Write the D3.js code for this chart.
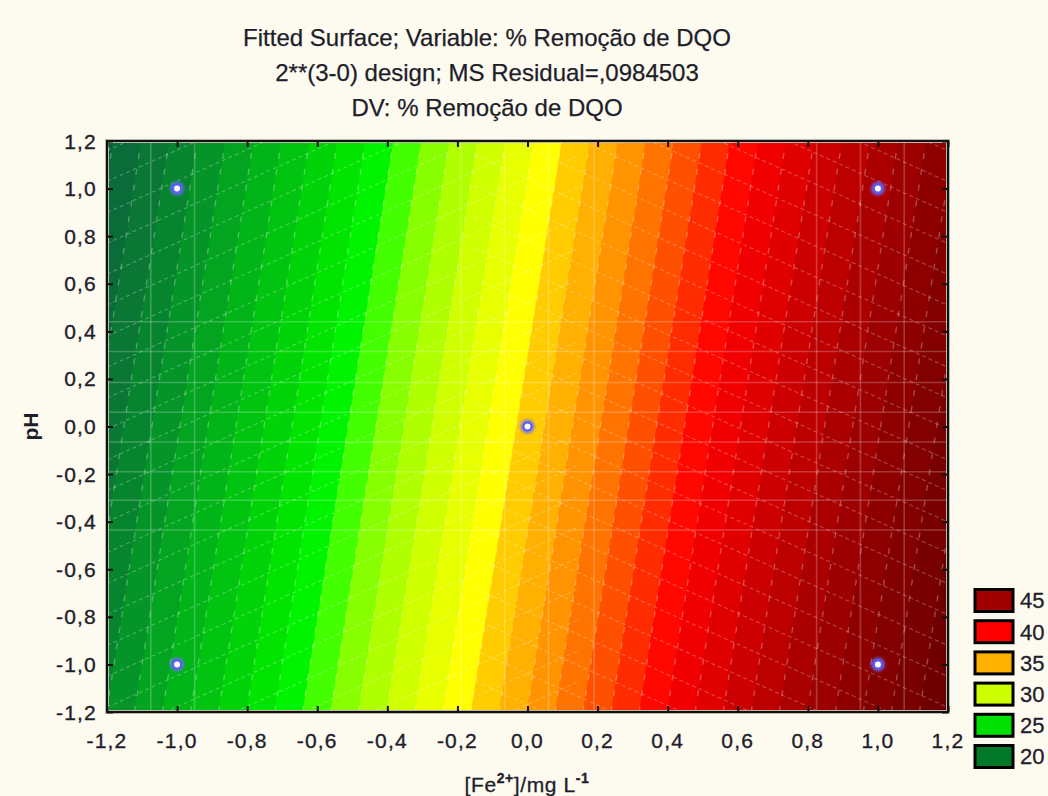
<!DOCTYPE html>
<html>
<head>
<meta charset="utf-8">
<script src="https://cdn.jsdelivr.net/npm/d3@7"></script>
<style>
  body { margin: 0; background: #fdfaf0; }
  svg { display: block; font-family: "Liberation Sans", Arial, sans-serif; }
</style>
</head>
<body>
<svg id="chart" width="1048" height="796"></svg>
<script>
// Fitted first-order model in coded units: % Remoção de DQO = b0 + bFe*x + bPH*y
const coefIntercept = 33.4;
const coefFe = 12.5;
const coefPH = -1.35;

// Design points (coded levels)
const designFe = [-1, -1, 0, 1, 1];
const designPH = [1, -1, 0, 1, -1];

// Axis ticks
const tickValues = [-1.2, -1.0, -0.8, -0.6, -0.4, -0.2, 0.0, 0.2, 0.4, 0.6, 0.8, 1.0, 1.2];

// Contour levels, one unit apart, and the fill of the band that starts at each level
const bandLevels = [16, 17, 18, 19, 20, 21, 22, 23, 24, 25, 26, 27, 28, 29, 30, 31, 32, 33,
                    34, 35, 36, 37, 38, 39, 40, 41, 42, 43, 44, 45, 46, 47, 48, 49, 50];
const bandColors = ["#08603a", "#0a6c38", "#0a7834", "#07852e", "#059428", "#03a420", "#01b418",
                    "#00c410", "#00d408", "#00e400", "#00f400", "#44ff00", "#88ff00", "#b0ff00",
                    "#d0ff00", "#e8ff00", "#ffff00", "#ffcc00", "#ffb000", "#ff9400", "#ff7400",
                    "#ff5000", "#ff2c00", "#ff0800", "#f00000", "#e00000", "#cc0000", "#bc0000",
                    "#aa0000", "#9c0000", "#8e0000", "#820000", "#780000", "#700000", "#680000"];

// Legend classes
const legendLevels = [45, 40, 35, 30, 25, 20];
const legendColors = ["#a00000", "#ff0000", "#ffb000", "#ccff00", "#00e000", "#007a28"];

// Titles
const titleLines = [
  "Fitted Surface; Variable: % Remoção de DQO",
  "2**(3-0) design; MS Residual=,0984503",
  "DV: % Remoção de DQO"
];

const surface = (x, y) => coefIntercept + coefFe * x + coefPH * y;
const fmt = v => d3.format(".1f")(v).replace("−", "-").replace(".", ",");

const svg = d3.select("#chart");
const W = 1048, H = 796;
const plot = { left: 107, right: 948, top: 141, bottom: 712 };
const domain = [-1.2, 1.2];
const ink = "#1e1e2a";

const x = d3.scaleLinear().domain(domain).range([plot.left, plot.right]);
const y = d3.scaleLinear().domain(domain).range([plot.bottom, plot.top]);

svg.append("rect").attr("width", W).attr("height", H).attr("fill", "#fdfaf0");

// Title
svg.append("g").selectAll("text").data(titleLines).join("text")
  .attr("x", 487).attr("y", (d, i) => 46 + i * 35)
  .attr("text-anchor", "middle")
  .attr("font-size", 24).attr("fill", ink)
  .attr("stroke", ink).attr("stroke-width", 0.25)
  .text(d => d);

const defs = svg.append("defs");
defs.append("clipPath").attr("id", "plotClip")
  .append("rect")
  .attr("x", plot.left).attr("y", plot.top)
  .attr("width", plot.right - plot.left).attr("height", plot.bottom - plot.top);
defs.append("filter").attr("id", "glow")
  .attr("x", "-100%").attr("y", "-100%").attr("width", "300%").attr("height", "300%")
  .append("feGaussianBlur").attr("stdDeviation", 1.6);

const area = svg.append("g").attr("clip-path", "url(#plotClip)");

// Sample the fitted surface on a grid and build filled contour bands
const n = 481;
const step = (domain[1] - domain[0]) / (n - 1);
const values = new Float64Array(n * n);
for (let j = 0; j < n; j++) {
  for (let i = 0; i < n; i++) {
    values[j * n + i] = surface(domain[0] + i * step, domain[1] - j * step);
  }
}
const contours = d3.contours().size([n, n]).thresholds(bandLevels)(values);
const gridToScreen = d3.geoTransform({
  point(cx, cy) {
    this.stream.point(x(domain[0] + (cx - 0.5) * step), y(domain[1] - (cy - 0.5) * step));
  }
});
const path = d3.geoPath(gridToScreen);

area.append("rect")
  .attr("x", plot.left).attr("y", plot.top)
  .attr("width", plot.right - plot.left).attr("height", plot.bottom - plot.top)
  .attr("fill", bandColors[0]);

area.append("g").selectAll("path").data(contours).join("path")
  .attr("d", path)
  .attr("fill", (d, i) => bandColors[i])
  .attr("stroke", (d, i) => bandColors[i])
  .attr("stroke-width", 0.3);

// Mesh overlay drawn by the surface renderer
const mesh = area.append("g").attr("fill", "none");

// dashed iso-lines at each contour level
const isoLine = d3.line().x(d => x(d[0])).y(d => y(d[1]));
mesh.append("g").selectAll("path").data(bandLevels).join("path")
  .attr("d", L => isoLine([
    [(L - coefIntercept - coefPH * domain[0]) / coefFe, domain[0]],
    [(L - coefIntercept - coefPH * domain[1]) / coefFe, domain[1]]
  ]))
  .attr("stroke", "#ffffff").attr("stroke-opacity", 0.3)
  .attr("stroke-width", 1.3).attr("stroke-dasharray", "6,10");

// faint solid grid strips
const meshX = [-1.075, -0.95, -0.19, -0.065, 0.06, 0.19, 0.825, 0.95, 1.075];
const meshY = [0.44, 0.315, 0.185, 0.06, -0.065, -0.19, -0.31, -0.435];
mesh.append("g").selectAll("line").data(meshX).join("line")
  .attr("x1", d => x(d)).attr("x2", d => x(d))
  .attr("y1", y(domain[0])).attr("y2", y(domain[1]))
  .attr("stroke", "#ffffff").attr("stroke-opacity", 0.22).attr("stroke-width", 1.6);
mesh.append("g").selectAll("line").data(meshY).join("line")
  .attr("y1", d => y(d)).attr("y2", d => y(d))
  .attr("x1", x(domain[0])).attr("x2", x(domain[1]))
  .attr("stroke", "#ffffff").attr("stroke-opacity", 0.22).attr("stroke-width", 1.6);

// slanted dotted wires: rising on the low-Fe side, falling on the high-Fe side
const slope = 0.66, spacing = 0.13;
const rising = d3.range(-3.0, 1.3, spacing).map(y0 => [[-1.2, y0], [0.15, y0 + slope * 1.35]]);
const falling = d3.range(-1.2, 2.9, spacing).map(y0 => [[-0.15, y0], [1.2, y0 - slope * 1.35]]);
mesh.append("g").selectAll("path").data(rising.concat(falling)).join("path")
  .attr("d", isoLine)
  .attr("stroke", "#ffffff").attr("stroke-opacity", 0.28)
  .attr("stroke-width", 1.1).attr("stroke-dasharray", "4,3");

// Frame
svg.append("rect")
  .attr("x", plot.left).attr("y", plot.top)
  .attr("width", plot.right - plot.left).attr("height", plot.bottom - plot.top)
  .attr("fill", "none").attr("stroke", "#bdb8ad").attr("stroke-width", 4);
svg.append("rect")
  .attr("x", plot.left).attr("y", plot.top)
  .attr("width", plot.right - plot.left).attr("height", plot.bottom - plot.top)
  .attr("fill", "none").attr("stroke", "#111").attr("stroke-width", 2);

// Axes with inward ticks on all sides
const tickStyle = g => {
  g.select(".domain").remove();
  g.selectAll(".tick line").attr("stroke", "#111").attr("stroke-width", 2);
};
svg.append("g").attr("transform", `translate(0,${plot.bottom})`)
  .call(d3.axisBottom(x).tickValues(tickValues).tickSizeInner(-6).tickSizeOuter(0).tickFormat(""))
  .call(tickStyle);
svg.append("g").attr("transform", `translate(0,${plot.top})`)
  .call(d3.axisTop(x).tickValues(tickValues).tickSizeInner(-6).tickSizeOuter(0).tickFormat(""))
  .call(tickStyle);
svg.append("g").attr("transform", `translate(${plot.left},0)`)
  .call(d3.axisLeft(y).tickValues(tickValues).tickSizeInner(-6).tickSizeOuter(0).tickFormat(""))
  .call(tickStyle);
svg.append("g").attr("transform", `translate(${plot.right},0)`)
  .call(d3.axisRight(y).tickValues(tickValues).tickSizeInner(-6).tickSizeOuter(0).tickFormat(""))
  .call(tickStyle);

// Tick labels
const labelFont = 21;
svg.append("g").selectAll("text").data(tickValues).join("text")
  .attr("x", d => x(d)).attr("y", 748)
  .attr("text-anchor", "middle").attr("font-size", labelFont)
  .attr("letter-spacing", 1.2).attr("fill", ink)
  .attr("stroke", ink).attr("stroke-width", 0.35)
  .text(fmt);
svg.append("g").selectAll("text").data(tickValues).join("text")
  .attr("x", 97).attr("y", d => y(d)).attr("dy", "0.36em")
  .attr("text-anchor", "end").attr("font-size", labelFont)
  .attr("letter-spacing", 1.2).attr("fill", ink)
  .attr("stroke", ink).attr("stroke-width", 0.35)
  .text(fmt);

// Axis titles
const xTitle = svg.append("text")
  .attr("x", 527).attr("y", 792).attr("text-anchor", "middle")
  .attr("font-size", 21).attr("letter-spacing", 0.6).attr("fill", ink)
  .attr("stroke", ink).attr("stroke-width", 0.3);
xTitle.append("tspan").text("[Fe");
xTitle.append("tspan").attr("font-size", 14).attr("font-weight", "bold").attr("dy", -9).text("2+");
xTitle.append("tspan").attr("dy", 9).text("]/mg L");
xTitle.append("tspan").attr("font-size", 14).attr("font-weight", "bold").attr("dy", -9).text("-1");

svg.append("text")
  .attr("transform", `translate(38,${y(0)}) rotate(-90)`)
  .attr("text-anchor", "middle").attr("font-size", 21).attr("font-weight", "bold")
  .attr("fill", ink)
  .text("pH");

// Design points
const pts = svg.append("g");
const ptData = designFe.map((v, i) => [v, designPH[i]]);
pts.selectAll("circle.halo").data(ptData).join("circle").attr("class", "halo")
  .attr("cx", d => x(d[0])).attr("cy", d => y(d[1])).attr("r", 7)
  .attr("fill", "#6a6aff").attr("opacity", 0.85).attr("filter", "url(#glow)");
pts.selectAll("circle.dot").data(ptData).join("circle").attr("class", "dot")
  .attr("cx", d => x(d[0])).attr("cy", d => y(d[1])).attr("r", 4)
  .attr("fill", "#ffffff").attr("stroke", "#5a5aff").attr("stroke-width", 2);

// Legend
const legend = svg.append("g");
const legendTop = 588, legendStep = 31.2;
legend.selectAll("rect").data(legendColors).join("rect")
  .attr("x", 975).attr("y", (d, i) => legendTop + i * legendStep + 1.5)
  .attr("width", 38).attr("height", 22)
  .attr("fill", d => d).attr("stroke", "#000").attr("stroke-width", 3);
legend.selectAll("text").data(legendLevels).join("text")
  .attr("x", 1020).attr("y", (d, i) => legendTop + i * legendStep + 12.5).attr("dy", "0.36em")
  .attr("font-size", 22).attr("fill", ink)
  .attr("stroke", ink).attr("stroke-width", 0.3)
  .text(d => d);
</script>
</body>
</html>
